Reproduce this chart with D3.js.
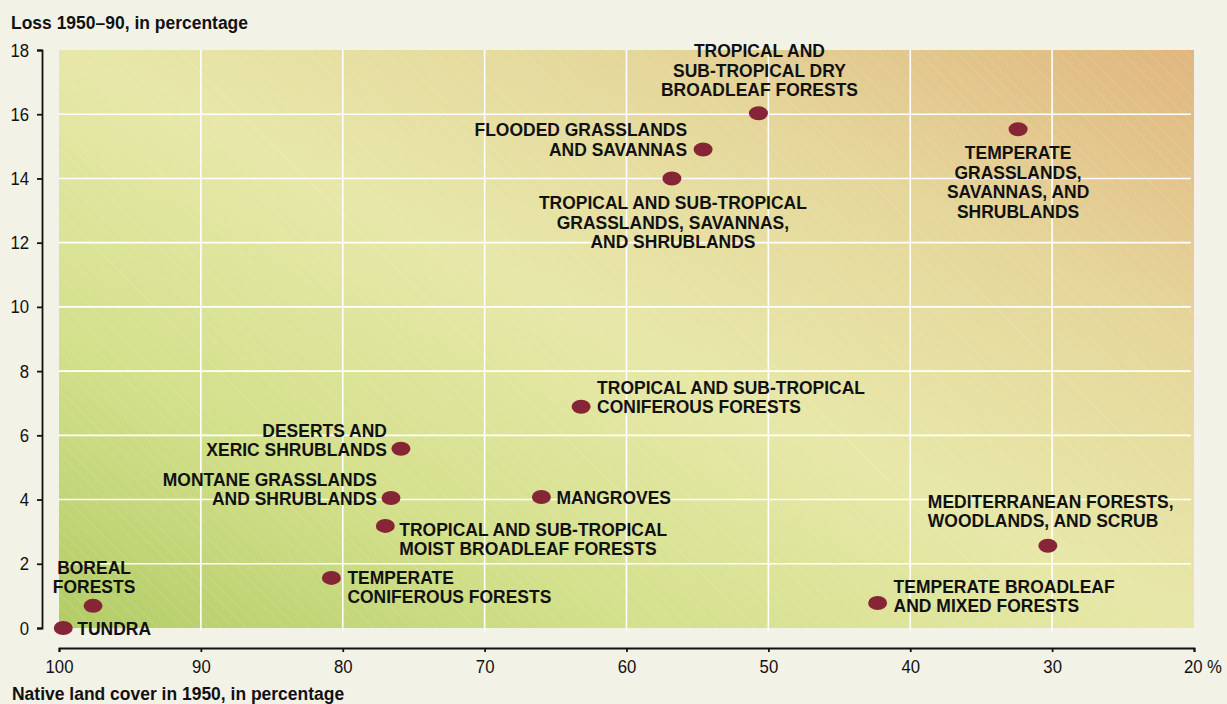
<!DOCTYPE html>
<html><head><meta charset="utf-8">
<script src="https://cdn.jsdelivr.net/npm/d3@7"></script>
<style>
html,body{margin:0;padding:0;background:#f3f2e7;}
svg{display:block;}
text{font-family:"Liberation Sans",Arial,Helvetica,sans-serif;fill:#111;}
</style></head>
<body>
<svg id="chart" width="1227" height="704"></svg>
<script>
// ---- data ----
const biomes = [
  "TUNDRA",
  "BOREAL FORESTS",
  "TEMPERATE CONIFEROUS FORESTS",
  "TROPICAL AND SUB-TROPICAL MOIST BROADLEAF FORESTS",
  "MONTANE GRASSLANDS AND SHRUBLANDS",
  "DESERTS AND XERIC SHRUBLANDS",
  "MANGROVES",
  "TROPICAL AND SUB-TROPICAL CONIFEROUS FORESTS",
  "TROPICAL AND SUB-TROPICAL GRASSLANDS, SAVANNAS, AND SHRUBLANDS",
  "FLOODED GRASSLANDS AND SAVANNAS",
  "TROPICAL AND SUB-TROPICAL DRY BROADLEAF FORESTS",
  "TEMPERATE GRASSLANDS, SAVANNAS, AND SHRUBLANDS",
  "MEDITERRANEAN FORESTS, WOODLANDS, AND SCRUB",
  "TEMPERATE BROADLEAF AND MIXED FORESTS"
];
const nativeCover1950 = [99.7, 97.6, 80.8, 77.0, 76.6, 75.9, 66.0, 63.2, 56.8, 54.6, 50.7, 32.4, 30.3, 42.3];
const loss1950to90   = [0.0, 0.69, 1.56, 3.18, 4.05, 5.58, 4.08, 6.89, 14.0, 14.9, 16.03, 15.53, 2.56, 0.78];
const labelLines = [
  ["TUNDRA"],
  ["BOREAL", "FORESTS"],
  ["TEMPERATE", "CONIFEROUS FORESTS"],
  ["TROPICAL AND SUB-TROPICAL", "MOIST BROADLEAF FORESTS"],
  ["MONTANE GRASSLANDS", "AND SHRUBLANDS"],
  ["DESERTS AND", "XERIC SHRUBLANDS"],
  ["MANGROVES"],
  ["TROPICAL AND SUB-TROPICAL", "CONIFEROUS FORESTS"],
  ["TROPICAL AND SUB-TROPICAL", "GRASSLANDS, SAVANNAS,", "AND SHRUBLANDS"],
  ["FLOODED GRASSLANDS", "AND SAVANNAS"],
  ["TROPICAL AND", "SUB-TROPICAL DRY", "BROADLEAF FORESTS"],
  ["TEMPERATE", "GRASSLANDS,", "SAVANNAS, AND", "SHRUBLANDS"],
  ["MEDITERRANEAN FORESTS,", "WOODLANDS, AND SCRUB"],
  ["TEMPERATE BROADLEAF", "AND MIXED FORESTS"]
];
const xTicks = [100, 90, 80, 70, 60, 50, 40, 30, 20];
const yTicks = [0, 2, 4, 6, 8, 10, 12, 14, 16, 18];
const xTitle = "Native land cover in 1950, in percentage";
const yTitle = "Loss 1950\u201390, in percentage";

// ---- layout (label placement relative to marker) ----
const labelLayout = [
  {anchor:"start",  dx:14,   dy:0},
  {anchor:"middle", dx:1,    dy:-39},
  {anchor:"start",  dx:16,   dy:-1},
  {anchor:"start",  dx:14,   dy:3},
  {anchor:"end",    dx:-14,  dy:-19},
  {anchor:"end",    dx:-14,  dy:-19},
  {anchor:"start",  dx:15,   dy:0},
  {anchor:"start",  dx:16,   dy:-20},
  {anchor:"middle", dx:1,    dy:24},
  {anchor:"end",    dx:-16,  dy:-20},
  {anchor:"middle", dx:1,    dy:-63},
  {anchor:"middle", dx:0,    dy:23},
  {anchor:"start",  dx:-120, dy:-45},
  {anchor:"start",  dx:16,   dy:-17}
];

const svg = d3.select("#chart");
const L = 59, R = 1194, T = 50, B = 628;
const x = d3.scaleLinear().domain([100, 20]).range([L, R]);
const y = d3.scaleLinear().domain([0, 18]).range([B, T]);
const SX = 0.92;   // horizontal condensing of the typeface
const TSX = 0.88;  // for tick numbers

const defs = svg.append("defs");
const grad = defs.append("linearGradient").attr("id", "bg")
  .attr("x1", 0).attr("y1", 1).attr("x2", 1).attr("y2", 0);
grad.append("stop").attr("offset", "0%").attr("stop-color", "#b2cc66");
grad.append("stop").attr("offset", "25%").attr("stop-color", "#d3e08b");
grad.append("stop").attr("offset", "50%").attr("stop-color", "#e7e8a8");
grad.append("stop").attr("offset", "75%").attr("stop-color", "#e5d69a");
grad.append("stop").attr("offset", "100%").attr("stop-color", "#e0b67f");
const pat = defs.append("pattern").attr("id", "stripes")
  .attr("patternUnits", "userSpaceOnUse").attr("width", 9).attr("height", 9)
  .attr("patternTransform", "rotate(-45)");
pat.append("line").attr("x1", 0).attr("y1", 0).attr("x2", 0).attr("y2", 9)
  .attr("stroke", "#ffffff").attr("stroke-opacity", 0.18).attr("stroke-width", 1.2);

// plot background
svg.append("rect").attr("x", L).attr("y", T).attr("width", R - L).attr("height", B - T)
  .attr("fill", "url(#bg)");
svg.append("rect").attr("x", L).attr("y", T).attr("width", R - L).attr("height", B - T)
  .attr("fill", "url(#stripes)");

// grid
const grid = svg.append("g");
grid.selectAll("line.v").data(xTicks.filter(d => d !== 100 && d !== 20)).join("line")
  .attr("x1", d => x(d)).attr("x2", d => x(d)).attr("y1", T).attr("y2", B + 3)
  .attr("stroke", "#ffffff").attr("stroke-width", 1.6);
grid.selectAll("line.h").data(yTicks.filter(d => d !== 0 && d !== 18)).join("line")
  .attr("x1", L).attr("x2", R - 3).attr("y1", d => y(d)).attr("y2", d => y(d))
  .attr("stroke", "#ffffff").attr("stroke-width", 1.6);

// axes
const xAxis = svg.append("g").attr("transform", `translate(0,648)`)
  .call(d3.axisBottom(x).tickValues(xTicks).tickSizeOuter(0).tickSize(4).tickPadding(8)
    .tickFormat(d => d === 20 ? "20 %" : d));
xAxis.select(".domain").attr("stroke", "#111").attr("stroke-width", 1.8);
xAxis.selectAll(".tick line").attr("stroke", "#111").attr("stroke-width", 1.8);
xAxis.selectAll(".tick text").attr("font-size", 19).attr("fill", "#111")
  .attr("font-family", "Liberation Sans, Arial, sans-serif")
  .attr("transform", `scale(${TSX},1)`)
  .each(function(d){ if (d === 20) d3.select(this).attr("text-anchor", "start").attr("x", -10.6 / TSX); });

const yAxis = svg.append("g").attr("transform", `translate(42,0)`)
  .call(d3.axisLeft(y).tickValues(yTicks).tickSizeOuter(0).tickSize(5).tickPadding(8));
yAxis.select(".domain").attr("stroke", "#111").attr("stroke-width", 1.8);
yAxis.selectAll(".tick line").attr("stroke", "#111").attr("stroke-width", 1.8);
yAxis.selectAll(".tick text").attr("font-size", 19).attr("fill", "#111")
  .attr("font-family", "Liberation Sans, Arial, sans-serif")
  .attr("transform", `scale(${TSX},1)`).attr("x", -13 / TSX);

// titles
svg.append("text").attr("transform", `translate(11,29) scale(${SX},1)`)
  .attr("font-size", 19).attr("font-weight", "bold").text(yTitle);
svg.append("text").attr("transform", `translate(12,700) scale(${SX},1)`)
  .attr("font-size", 19).attr("font-weight", "bold").text(xTitle);

// points
const pts = biomes.map((b, i) => ({name: b, cx: nativeCover1950[i], ly: loss1950to90[i], lines: labelLines[i], lay: labelLayout[i]}));
svg.append("g").selectAll("ellipse").data(pts).join("ellipse")
  .attr("cx", d => x(d.cx)).attr("cy", d => y(d.ly))
  .attr("rx", 9.5).attr("ry", 7).attr("fill", "#862536");

// labels
const lab = svg.append("g").selectAll("text").data(pts).join("text")
  .attr("font-size", 19).attr("font-weight", "bold")
  .attr("text-anchor", d => d.lay.anchor)
  .attr("transform", d => `translate(${x(d.cx) + d.lay.dx},${y(d.ly) + d.lay.dy + 6.8}) scale(${SX},1)`);
lab.each(function(d){
  d3.select(this).selectAll("tspan").data(d.lines).join("tspan")
    .attr("x", 0).attr("y", (t, j) => j * 19.6).text(t => t);
});
</script>
</body></html>
